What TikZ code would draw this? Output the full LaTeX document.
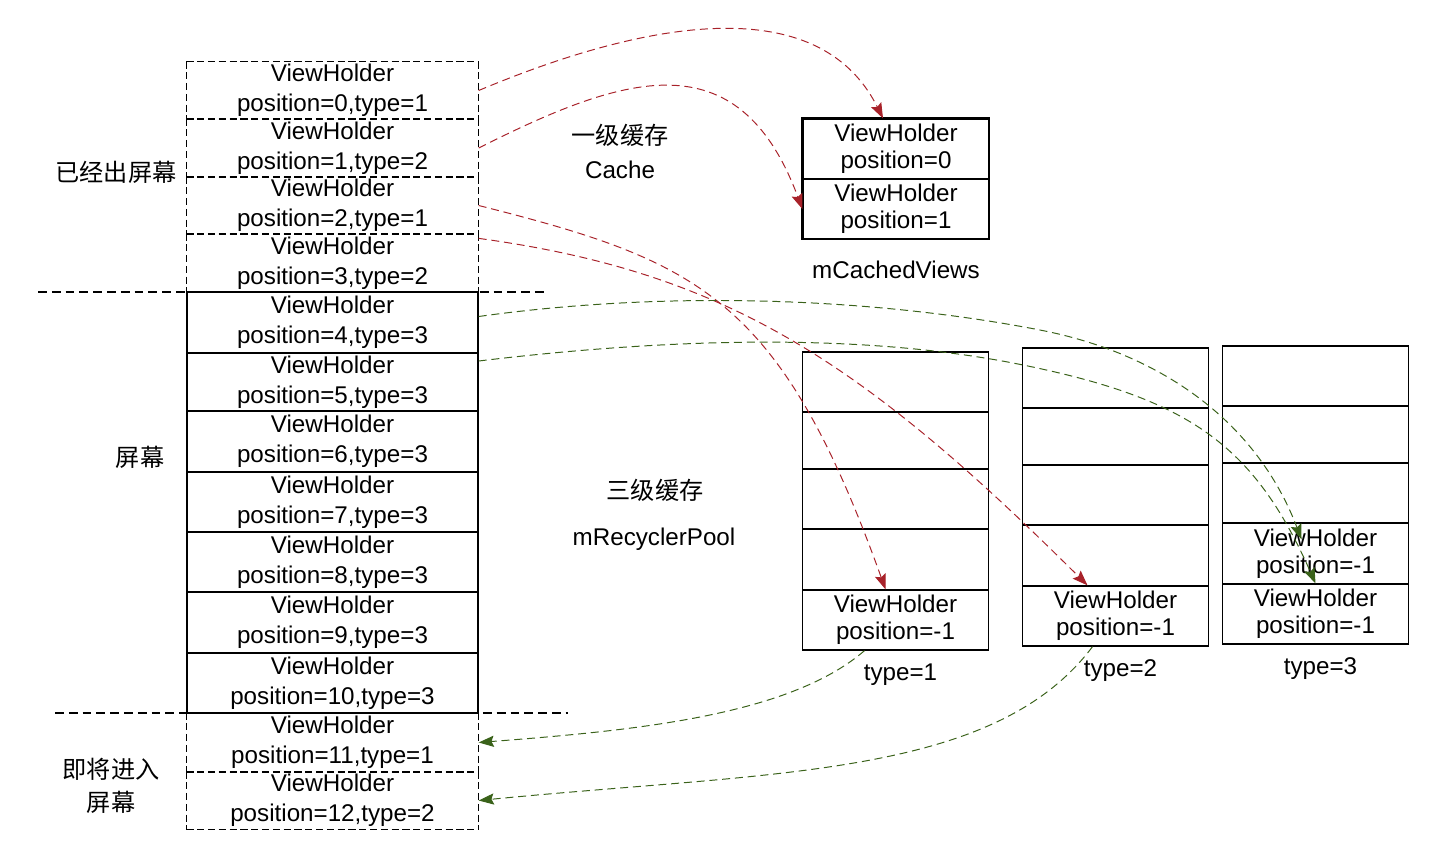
\documentclass[tikz,border=0pt]{standalone}
\usepackage{fontspec}
\setmainfont{Liberation Sans}
\newfontfamily\cjkfont{Noto Sans CJK SC}
\definecolor{rcRed}{RGB}{168, 34, 42}
\definecolor{rcGreen}{RGB}{58, 98, 26}
\usetikzlibrary{arrows.meta, calc}
\newcommand{\vhfont}{\fontsize{17.2}{21.3}\selectfont}
\newcommand{\cellfont}{\fontsize{17.2}{19.3}\selectfont}
\tikzset{
  vhrow/.style={rectangle, draw, line width=0.9pt, minimum width=7.275cm, inner sep=0pt, align=center, font=\vhfont},
  vhgone/.style={vhrow, draw=none},
  gonedash/.style={line width=1.1pt, dash pattern=on 1.8mm off 0.9mm},
  cachecell/.style={rectangle, draw, line width=0.9pt, minimum width=4.65cm, minimum height=1.5cm, inner sep=0pt, align=center, font=\cellfont},
  poolcell/.style={rectangle, draw, line width=0.9pt, minimum width=4.65cm, inner sep=0pt},
  lbl/.style={inner sep=0pt, align=center, font=\cellfont},
  cnlbl/.style={inner sep=0pt, align=center, font=\cellfont\cjkfont},
  sepline/.style={line width=0.8pt, dash pattern=on 2.2mm off 1.25mm},
  cachearrow/.style={-{Stealth[length=3.8mm, width=2.8mm, inset=0.6mm]}, line width=0.7pt, rcRed, dash pattern=on 2mm off 1.2mm},
  poolarrow/.style={-{Stealth[length=3.8mm, width=2.8mm, inset=0.6mm]}, line width=0.7pt, rcGreen, dash pattern=on 2mm off 1.2mm},
}
\begin{document}
\begin{tikzpicture}[x=0.025cm, y=-0.025cm]
  \useasboundingbox (0,0) rectangle (1444,848);

  % RecyclerView items
  \foreach \i/\ya/\yb/\tp/\sty in {0/62/119/1/vhgone, 1/119/177/2/vhgone, 2/177/234/1/vhgone, 3/234/292/2/vhgone,
      4/292/353/3/vhrow, 5/353/411/3/vhrow, 6/411/472/3/vhrow, 7/472/532/3/vhrow, 8/532/592/3/vhrow,
      9/592/653/3/vhrow, 10/653/713/3/vhrow, 11/713/772/1/vhgone, 12/772/829/2/vhgone}
    \node[\sty, minimum height={(\yb-\ya)*0.025cm}] (r\i) at (332.5,{(\ya+\yb)/2}) {ViewHolder\\position=\i,type=\tp};
  % dashed outlines, every edge drawn left to right / top to bottom
  \foreach \i in {0,1,2,3,11,12}
    \draw[gonedash] (r\i.north west) -- (r\i.north east) (r\i.south west) -- (r\i.south east)
      (r\i.north west) -- (r\i.south west) (r\i.north east) -- (r\i.south east);

  \draw[sepline] (38,292) -- (548,292);
  \draw[sepline] (55,713) -- (568,713);

  \node[cnlbl] (gone) at (116,172) {已经出屏幕};
  \node[cnlbl] (screen) at (140,457) {屏幕};
  \node[cnlbl] (coming) at (111,786) {即将进入\\[4pt]屏幕};

  % mCachedViews
  \node[cachecell] (c0) at (896,149) {ViewHolder\\position=0};
  \node[cachecell] (c1) at (896,209) {ViewHolder\\position=1};
  \draw[line width=1.8pt] (c1.south west) -- (c0.north west) -- (c0.north east);
  \node[lbl] (cachename) at (896,270) {mCachedViews};
  \node[cnlbl] (l1cn) at (620,135) {一级缓存};
  \node[lbl] (l1en) at (620,170) {Cache};

  % mRecyclerPool
  \foreach \c/\cx/\ty in {1/895.5/352, 2/1115.5/348, 3/1315.5/346} {
    \foreach \k/\ya/\yb in {a/0/60, b/60/117, c/117/177, d/177/238, e/238/298}
      \node[poolcell, minimum height={(\yb-\ya)*0.025cm}] (p\c\k) at (\cx,{\ty+(\ya+\yb)/2}) {};
    \node[lbl] (type\c) at (\cx+5,\ty+323) {type=\c};
  }
  \node[lbl] (p1e-vh) at (p1e) {ViewHolder\\position=-1};
  \node[lbl] (p2e-vh) at (p2e) {ViewHolder\\position=-1};
  \node[lbl] (p3d-vh) at (p3d) {ViewHolder\\position=-1};
  \node[lbl] (p3e-vh) at (p3e) {ViewHolder\\position=-1};
  \node[cnlbl] (l3cn) at (655,490) {三级缓存};
  \node[lbl] (l3en) at (654,539) {mRecyclerPool};

  % into the cache
  \draw[cachearrow] (r0.east) .. controls (579,48.5) and (807,-33.5) .. ($(c0.north)+(-13,0)$);
  \draw[cachearrow] (r1.east) .. controls (622,76) and (738,36) .. (c1.west);
  \draw[cachearrow] (r2.east) .. controls (698,261) and (780,296) .. ($(p1e.north)+(-10,0)$);
  \draw[cachearrow] ($(r3.north east)+(0,5)$) .. controls (724,272) and (860,359) .. ($(p2e.north)+(-28,0)$);

  % into the pool
  \coordinate (g4via) at (1040,330);
  \coordinate (g5via) at (1023,365);
  \draw[poolarrow] ($(r4.east)+(0,-6)$) .. controls (668,290) and (873,297.7) .. (g4via)
    .. controls (1157.6,352.8) and (1255.5,418.8) .. ($(p3d.north)+(-14,17)$);
  \draw[poolarrow] ($(r5.east)+(0,-21)$) .. controls (658,339.4) and (856.4,331) .. (g5via)
    .. controls (1189.6,399) and (1254,445) .. (p3e.north);

  % out of the pool
  \draw[poolarrow] ($(p1e.south)+(-31,0)$) .. controls (788.3,716.6) and (629.7,730.7) .. (r11.east);
  \draw[poolarrow] ($(p2e.south)+(-23,0)$) .. controls (993.8,777.9) and (774.8,771.4) .. (r12.east);
\end{tikzpicture}
\end{document}
